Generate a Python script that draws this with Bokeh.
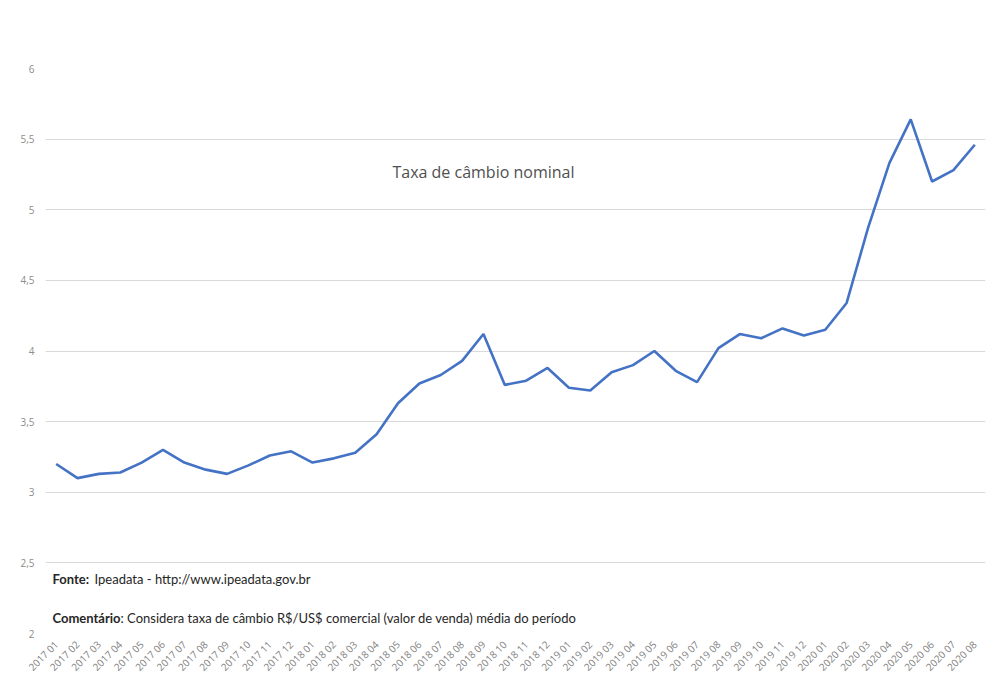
from bokeh.plotting import figure
from bokeh.models import FixedTicker, Label, ColumnDataSource
from bokeh.embed import file_html
from bokeh.resources import INLINE
import math

periods = [
    "2017 01", "2017 02", "2017 03", "2017 04", "2017 05", "2017 06",
    "2017 07", "2017 08", "2017 09", "2017 10", "2017 11", "2017 12",
    "2018 01", "2018 02", "2018 03", "2018 04", "2018 05", "2018 06",
    "2018 07", "2018 08", "2018 09", "2018 10", "2018 11", "2018 12",
    "2019 01", "2019 02", "2019 03", "2019 04", "2019 05", "2019 06",
    "2019 07", "2019 08", "2019 09", "2019 10", "2019 11", "2019 12",
    "2020 01", "2020 02", "2020 03", "2020 04", "2020 05", "2020 06",
    "2020 07", "2020 08",
]
rate = [
    3.20, 3.10, 3.13, 3.14, 3.21, 3.30,
    3.21, 3.16, 3.13, 3.19, 3.26, 3.29,
    3.21, 3.24, 3.28, 3.41, 3.63, 3.77,
    3.83, 3.93, 4.12, 3.76, 3.79, 3.88,
    3.74, 3.72, 3.85, 3.90, 4.00, 3.86,
    3.78, 4.02, 4.12, 4.09, 4.16, 4.11,
    4.15, 4.34, 4.87, 5.33, 5.64, 5.20,
    5.28, 5.46,
]
y_ticks = [2.0, 2.5, 3.0, 3.5, 4.0, 4.5, 5.0, 5.5, 6.0]
y_tick_labels = ["2", "2,5", "3", "3,5", "4", "4,5", "5", "5,5", "6"]

title_text = "Taxa de câmbio nominal"
source_bold = "Fonte:"
source_text = "Ipeadata - http://www.ipeadata.gov.br"
comment_bold = "Comentário"
comment_text = ": Considera taxa de câmbio R$/US$ comercial (valor de venda) média do período"

src = ColumnDataSource(data=dict(x=periods, y=rate))

p = figure(
    width=987, height=684,
    x_range=periods, y_range=(2, 6),
    output_backend="svg", toolbar_location=None,
    min_border_left=45, min_border_right=2,
    min_border_top=68, min_border_bottom=51,
)
p.outline_line_color = None
p.background_fill_color = "white"
p.border_fill_color = "white"

p.line("x", "y", source=src, line_color="#4472C4", line_width=2.6)

# y axis
p.yaxis.ticker = FixedTicker(ticks=y_ticks)
p.yaxis.major_label_overrides = {t: l for t, l in zip(y_ticks, y_tick_labels)}
p.yaxis.axis_line_color = None
p.yaxis.major_tick_line_color = None
p.yaxis.minor_tick_line_color = None
p.yaxis.major_label_text_font = "Open Sans"
p.yaxis.major_label_text_font_size = "10px"
p.yaxis.major_label_text_color = "#8c8c8c"
p.yaxis.major_label_standoff = 5

# x axis
p.xaxis.axis_line_color = None
p.xaxis.major_tick_line_color = None
p.xaxis.minor_tick_line_color = None
p.xaxis.major_label_orientation = math.pi / 4
p.xaxis.major_label_text_font = "Open Sans"
p.xaxis.major_label_text_font_size = "10px"
p.xaxis.major_label_text_color = "#7f7f7f"
p.xaxis.major_label_standoff = 3

p.xgrid.grid_line_color = None
p.ygrid.grid_line_color = "#d9d9d9"
p.ygrid.grid_line_width = 1

# annotations
p.add_layout(Label(x=20.5, y=5.264, text=title_text, text_align="center",
                   text_baseline="middle", text_font="Open Sans",
                   text_font_size="16px", text_color="#505050"))

p.add_layout(Label(x=0, y=2.389, x_offset=7, text=source_bold,
                   text_baseline="middle", text_font="Lato", text_font_style="bold",
                   text_font_size="13px", text_color="#262626"))
p.add_layout(Label(x=0, y=2.389, x_offset=49, text=source_text,
                   text_baseline="middle", text_font="Lato",
                   text_font_size="13px", text_color="#262626"))
p.add_layout(Label(x=0, y=2.113, x_offset=7, text=comment_bold,
                   text_baseline="middle", text_font="Lato", text_font_style="bold",
                   text_font_size="13px", text_color="#262626"))
p.add_layout(Label(x=0, y=2.113, x_offset=75, text=comment_text,
                   text_baseline="middle", text_font="Lato",
                   text_font_size="13px", text_color="#262626"))

open("out.html", "w").write(file_html(p, INLINE))
